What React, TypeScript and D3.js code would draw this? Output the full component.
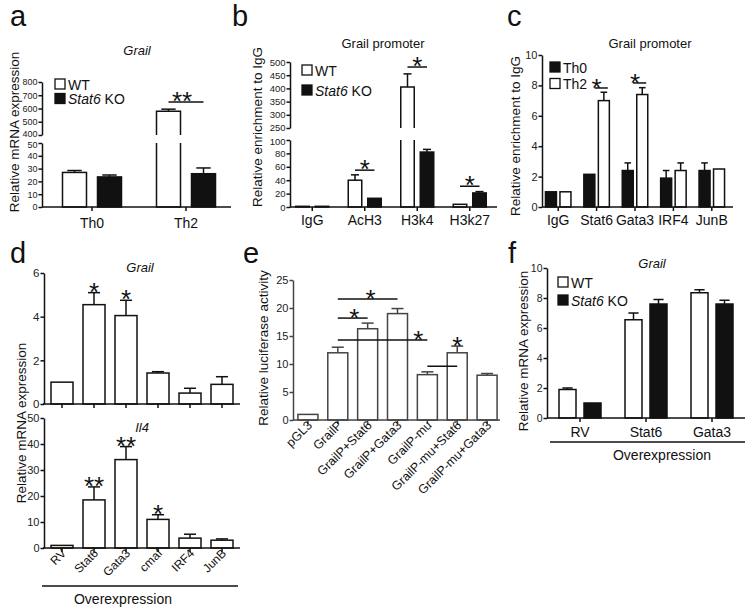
import React, { useRef, useEffect } from 'react';
import * as d3 from 'd3';

const FONT = '"Liberation Sans", Arial, Helvetica, sans-serif';
const INK = '#111';
const STAR = 26;

// a: Grail mRNA, WT vs Stat6 KO (broken axis)
const aGroups = ['Th0', 'Th2'];
const aWT = [27, 580];
const aWTErr = [28.5, 595];
const aKO = [23.5, 26];
const aKOErr = [25, 30.5];
const aTicksLow = [0, 10, 20, 30, 40, 50];
const aTicksHigh = [400, 500, 600, 700, 800];
const aSig = [{ group: 'Th2', y: 650, text: '**' }];

// b: ChIP on Grail promoter (broken axis)
const bGroups = ['IgG', 'AcH3', 'H3k4', 'H3k27'];
const bWT = [1, 40, 405, 4];
const bWTErr = [1, 48, 455, 5];
const bKO = [1, 13, 82, 21];
const bKOErr = [1, 14, 86, 23];
const bTicksLow = [0, 20, 40, 60, 80, 100];
const bTicksHigh = [250, 300, 350, 400, 450, 500];
const bSig = [
  { group: 'AcH3', y: 55, text: '*' },
  { group: 'H3k4', y: 481, text: '*' },
  { group: 'H3k27', y: 31, text: '*' },
];

// c: TF binding, Th0 vs Th2
const cGroups = ['IgG', 'Stat6', 'Gata3', 'IRF4', 'JunB'];
const cTh0 = [1, 2.15, 2.4, 1.9, 2.4];
const cTh0Err = [1, 2.2, 2.9, 2.4, 2.9];
const cTh2 = [1, 7.0, 7.4, 2.4, 2.5];
const cTh2Err = [1, 7.55, 7.85, 2.9, 2.5];
const cTicks = [0, 2, 4, 6, 8, 10];
const cSig = [
  { group: 'Stat6', y: 7.83, text: '*' },
  { group: 'Gata3', y: 8.16, text: '*' },
];

// d: overexpression, Grail and Il4
const dGroups = ['RV', 'Stat6', 'Gata3', 'cmaf', 'IRF4', 'JunB'];
const dGrail = [1, 4.55, 4.05, 1.42, 0.5, 0.9];
const dGrailErr = [1, 5.1, 4.75, 1.48, 0.72, 1.25];
const dGrailSig = ['', '*', '*', '', '', ''];
const dIl4 = [1, 18.5, 34, 11, 3.8, 3.0];
const dIl4Err = [1, 23.5, 39, 12.8, 5.3, 3.5];
const dIl4Sig = ['', '**', '**', '*', '', ''];
const dTicksGrail = [0, 2, 4, 6];
const dTicksIl4 = [0, 10, 20, 30, 40, 50];

// e: luciferase
const eGroups = ['pGL3', 'GrailP', 'GrailP+Stat6', 'GrailP+Gata3', 'GrailP-mu', 'GrailP-mu+Stat6', 'GrailP-mu+Gata3'];
const eVals = [1, 12, 16.3, 19, 8.1, 12, 8];
const eErr = [1, 13, 17.3, 19.9, 8.6, 13.2, 8.3];
const eSig = ['', '', '', '', '', '*', ''];
const eBrackets = [
  { from: 'GrailP', to: 'GrailP+Gata3', y: 21.6, star: 0.55 },
  { from: 'GrailP', to: 'GrailP+Stat6', y: 18.2, star: 0.55 },
  { from: 'GrailP', to: 'GrailP-mu', y: 14.3, star: 0.9 },
  { from: 'GrailP-mu', to: 'GrailP-mu+Stat6', y: 9.6, star: -1 },
];
const eTicks = [0, 5, 10, 15, 20, 25];

// f: overexpression in WT vs Stat6 KO
const fGroups = ['RV', 'Stat6', 'Gata3'];
const fWT = [1.9, 6.55, 8.35];
const fWTErr = [2.0, 7.0, 8.55];
const fKO = [1.0, 7.6, 7.6];
const fKOErr = [1.0, 7.9, 7.85];
const fTicks = [0, 2, 4, 6, 8, 10];

type Lin = d3.ScaleLinear<number, number>;
interface Split { low: Lin; high?: Lin }

const yOf = (s: Split, v: number) => (s.high && v > s.low.domain()[1] ? s.high(v) : s.low(v));

function text(g: any, x: number, y: number, s: string, size: number, o: any = {}) {
  const t = g.append('text')
    .attr('x', x).attr('y', y)
    .attr('font-size', size)
    .attr('font-family', FONT)
    .attr('fill', o.fill || INK)
    .attr('text-anchor', o.anchor || 'start');
  if (o.italic) t.attr('font-style', 'italic');
  if (o.weight) t.attr('font-weight', o.weight);
  if (o.rotate) t.attr('transform', `rotate(${o.rotate},${x},${y})`);
  t.text(s);
  return t;
}

function yLabel(g: any, cx: number, cy: number, s: string) {
  text(g, cx + 4.7, cy, s, 13.5, { anchor: 'middle', rotate: -90 });
}

// nudge: shifts the label of the end tick (for broken axes) so the two halves do not collide
function yAxis(g: any, scale: Lin, x: number, ticks: number[], size: number, color = INK, nudge = 0) {
  const ax = g.append('g').attr('transform', `translate(${x},0)`)
    .call(d3.axisLeft(scale).tickValues(ticks).tickFormat(d3.format('~g') as any)
      .tickSize(3.5).tickSizeOuter(0).tickPadding(1));
  ax.attr('font-family', FONT).attr('font-size', size);
  ax.select('.domain').attr('stroke', color).attr('stroke-width', 1.5);
  ax.selectAll('.tick line').attr('stroke', color).attr('stroke-width', 1.5);
  ax.selectAll('.tick text').attr('fill', '#222');
  if (nudge) {
    const edge = nudge < 0 ? ticks[0] : ticks[ticks.length - 1];
    ax.selectAll('.tick').filter((d: any) => d === edge).select('text').attr('y', nudge);
  }
}

function xAxisLine(g: any, x0: number, x1: number, y: number, centers: number[], color = INK) {
  g.append('line').attr('x1', x0).attr('x2', x1).attr('y1', y).attr('y2', y)
    .attr('stroke', color).attr('stroke-width', 1.5);
  centers.forEach(c => g.append('line').attr('x1', c).attr('x2', c).attr('y1', y).attr('y2', y + 4)
    .attr('stroke', color).attr('stroke-width', 1.5));
}

function bar(g: any, x: number, w: number, v: number, fill: string, s: Split, color = INK) {
  const base = s.low(0);
  const style = (sel: any) => sel.attr('fill', fill).attr('stroke', color).attr('stroke-width', 1.5);
  if (!s.high || v <= s.low.domain()[1]) {
    style(g.append('rect').attr('x', x).attr('y', s.low(v)).attr('width', w).attr('height', base - s.low(v)));
  } else {
    const lTop = s.low(s.low.domain()[1]);
    const hBot = s.high(s.high.domain()[0]);
    style(g.append('path').attr('d', `M${x},${lTop}V${base}H${x + w}V${lTop}`));
    style(g.append('path').attr('d', `M${x},${hBot}V${s.high(v)}H${x + w}V${hBot}`));
  }
}

function errBar(g: any, cx: number, v: number, e: number, w: number, s: Split, color = INK) {
  const y0 = yOf(s, v);
  const y1 = yOf(s, e);
  if (y0 - y1 < 1) return;
  g.append('line').attr('x1', cx).attr('x2', cx).attr('y1', y0).attr('y2', y1)
    .attr('stroke', color).attr('stroke-width', 1.5);
  g.append('line').attr('x1', cx - w / 2).attr('x2', cx + w / 2).attr('y1', y1).attr('y2', y1)
    .attr('stroke', color).attr('stroke-width', 1.5);
}

function star(g: any, x: number, cy: number, s: string) {
  text(g, x, cy + 0.58 * STAR, s, STAR, { anchor: 'middle' });
}

function pairPanel(g: any, groups: string[], series: any[], range: [number, number], w: number, gap: number, s: Split) {
  const step = (range[1] - range[0]) / groups.length;
  const pad = 1 - (2 * w + gap) / step;
  const outer = d3.scaleBand().domain(groups).range(range).paddingInner(pad).paddingOuter(pad / 2);
  const inner = d3.scaleBand().domain(series.map(d => d.key)).range([0, outer.bandwidth()]).paddingInner(gap / (w + gap));
  groups.forEach((gr, i) => {
    series.forEach(se => {
      const x = (outer(gr) as number) + (inner(se.key) as number);
      bar(g, x, inner.bandwidth(), se.vals[i], se.fill, s);
      errBar(g, x + inner.bandwidth() / 2, se.vals[i], se.errs[i], inner.bandwidth() * 0.6, s);
    });
  });
  const center = (gr: string) => (outer(gr) as number) + outer.bandwidth() / 2;
  const seriesCenter = (gr: string, k: string) => (outer(gr) as number) + (inner(k) as number) + inner.bandwidth() / 2;
  return { outer, inner, center, seriesCenter };
}

function legend(g: any, x: number, y: number, dy: number, items: { fill: string; parts: [string, boolean][] }[]) {
  items.forEach((it, i) => {
    g.append('rect').attr('x', x).attr('y', y + i * dy).attr('width', 10).attr('height', 10)
      .attr('fill', it.fill).attr('stroke', INK).attr('stroke-width', 1.3);
    const t = g.append('text').attr('x', x + 13).attr('y', y + i * dy + 10.5)
      .attr('font-size', 14).attr('font-family', FONT).attr('fill', INK);
    it.parts.forEach(([s, it2]) => t.append('tspan').attr('font-style', it2 ? 'italic' : 'normal').text(s));
  });
}

const wtKoLegend = [
  { fill: '#fff', parts: [['WT', false]] as [string, boolean][] },
  { fill: INK, parts: [['Stat6', true], [' KO', false]] as [string, boolean][] },
];

function draw(svg: any) {
  const root = svg.append('g');

  [['a', 10, 26], ['b', 232, 26], ['c', 507, 26], ['d', 10, 263], ['e', 243, 263], ['f', 508, 263]]
    .forEach(([l, x, y]) => text(root, x as number, y as number, l as string, 29));

  // ---------- a
  const ga = root.append('g');
  const aS: Split = {
    low: d3.scaleLinear().domain([0, 50]).range([207, 143]),
    high: d3.scaleLinear().domain([400, 800]).range([135, 82]),
  };
  yAxis(ga, aS.low, 42, aTicksLow, 9, INK, 1.5);
  yAxis(ga, aS.high!, 42, aTicksHigh, 9, INK, -1.5);
  const aP = pairPanel(ga, aGroups, [
    { key: 'WT', vals: aWT, errs: aWTErr, fill: '#fff' },
    { key: 'KO', vals: aKO, errs: aKOErr, fill: INK },
  ], [45, 233], 24, 11, aS);
  xAxisLine(ga, 42, 231, 207, aGroups.map(aP.center));
  aGroups.forEach(gr => text(ga, aP.center(gr), 228, gr, 14, { anchor: 'middle' }));
  text(ga, 137, 55, 'Grail', 13, { anchor: 'middle', italic: true });
  yLabel(ga, 14, 132, 'Relative mRNA expression');
  legend(ga, 55, 79, 14.5, wtKoLegend);
  aSig.forEach(sg => {
    const y = yOf(aS, sg.y);
    ga.append('line').attr('x1', aP.seriesCenter(sg.group, 'WT')).attr('x2', aP.seriesCenter(sg.group, 'KO'))
      .attr('y1', y).attr('y2', y).attr('stroke', INK).attr('stroke-width', 1.5);
    star(ga, aP.center(sg.group) - 4, y - 7, sg.text);
  });

  // ---------- b
  const gb = root.append('g');
  const bS: Split = {
    low: d3.scaleLinear().domain([0, 100]).range([207, 140]),
    high: d3.scaleLinear().domain([250, 500]).range([128, 62]),
  };
  yAxis(gb, bS.low, 290, bTicksLow, 9.5, INK, 1);
  yAxis(gb, bS.high!, 290, bTicksHigh, 9.5, INK, -1);
  const bP = pairPanel(gb, bGroups, [
    { key: 'WT', vals: bWT, errs: bWTErr, fill: '#fff' },
    { key: 'KO', vals: bKO, errs: bKOErr, fill: INK },
  ], [286, 496], 13.5, 6, bS);
  xAxisLine(gb, 290, 497, 207, bGroups.map(bP.center));
  bGroups.forEach(gr => text(gb, bP.center(gr), 225, gr, 14, { anchor: 'middle' }));
  text(gb, 383, 48, 'Grail promoter', 13, { anchor: 'middle' });
  yLabel(gb, 257, 127, 'Relative enrichment to IgG');
  legend(gb, 302, 65, 20, wtKoLegend);
  bSig.forEach(sg => {
    const y = yOf(bS, sg.y);
    gb.append('line').attr('x1', bP.seriesCenter(sg.group, 'WT')).attr('x2', bP.seriesCenter(sg.group, 'KO'))
      .attr('y1', y).attr('y2', y).attr('stroke', INK).attr('stroke-width', 1.5);
    star(gb, bP.center(sg.group), y - 7, sg.text);
  });

  // ---------- c
  const gc = root.append('g');
  const cS: Split = { low: d3.scaleLinear().domain([0, 10]).range([207, 55]) };
  yAxis(gc, cS.low, 542, cTicks, 11);
  const cP = pairPanel(gc, cGroups, [
    { key: 'Th0', vals: cTh0, errs: cTh0Err, fill: INK },
    { key: 'Th2', vals: cTh2, errs: cTh2Err, fill: '#fff' },
  ], [539, 731], 11, 3.5, cS);
  xAxisLine(gc, 542, 733, 207, cGroups.map(cP.center));
  cGroups.forEach(gr => text(gc, cP.center(gr), 225, gr, 14, { anchor: 'middle' }));
  text(gc, 650, 48, 'Grail promoter', 13, { anchor: 'middle' });
  yLabel(gc, 515, 136, 'Relative enrichment to IgG');
  legend(gc, 550, 62, 16.5, [
    { fill: INK, parts: [['Th0', false]] },
    { fill: '#fff', parts: [['Th2', false]] },
  ]);
  cSig.forEach(sg => {
    const y = yOf(cS, sg.y);
    gc.append('line').attr('x1', cP.center(sg.group) - 2).attr('x2', cP.seriesCenter(sg.group, 'Th2') + 4)
      .attr('y1', y).attr('y2', y).attr('stroke', INK).attr('stroke-width', 1.5);
    star(gc, cP.center(sg.group), y - 6, sg.text);
  });

  // ---------- d
  const gd = root.append('g');
  const dS1: Split = { low: d3.scaleLinear().domain([0, 6]).range([404, 273]) };
  const dS2: Split = { low: d3.scaleLinear().domain([0, 50]).range([548, 418]) };
  const dPad = 1 - 22 / 32;
  const dBand = d3.scaleBand().domain(dGroups).range([46, 238]).paddingInner(dPad).paddingOuter(dPad / 2);
  const dC = (gr: string) => (dBand(gr) as number) + dBand.bandwidth() / 2;
  yAxis(gd, dS1.low, 44, dTicksGrail, 11.5);
  yAxis(gd, dS2.low, 44, dTicksIl4, 11);
  ([[dS1, dGrail, dGrailErr, dGrailSig], [dS2, dIl4, dIl4Err, dIl4Sig]] as [Split, number[], number[], string[]][])
    .forEach(([s, vals, errs, sig]) => {
      dGroups.forEach((gr, i) => {
        bar(gd, dBand(gr) as number, dBand.bandwidth(), vals[i], '#fff', s);
        errBar(gd, dC(gr), vals[i], errs[i], dBand.bandwidth() * 0.55, s);
        if (sig[i]) star(gd, dC(gr), yOf(s, errs[i]) - 7, sig[i]);
      });
      xAxisLine(gd, 43, 240, s.low(0), dGroups.map(dC));
    });
  dGroups.forEach(gr => text(gd, dC(gr) + 5, 554, gr, 12, { anchor: 'end', rotate: -45 }));
  gd.append('line').attr('x1', 42).attr('x2', 238).attr('y1', 586).attr('y2', 586)
    .attr('stroke', INK).attr('stroke-width', 1.5);
  text(gd, 123, 604, 'Overexpression', 14, { anchor: 'middle' });
  text(gd, 140, 272, 'Grail', 13, { anchor: 'middle', italic: true });
  text(gd, 142, 432, 'Il4', 13, { anchor: 'middle', italic: true });
  yLabel(gd, 21, 423, 'Relative mRNA expression');

  // ---------- e
  const ge = root.append('g');
  const GRAY = '#444';
  const eS: Split = { low: d3.scaleLinear().domain([0, 25]).range([420, 280]) };
  const ePad = 1 - 20 / 29.86;
  const eBand = d3.scaleBand().domain(eGroups).range([293, 502]).paddingInner(ePad).paddingOuter(ePad / 2);
  const eC = (gr: string) => (eBand(gr) as number) + eBand.bandwidth() / 2;
  yAxis(ge, eS.low, 293, eTicks, 11, GRAY);
  eGroups.forEach((gr, i) => {
    bar(ge, eBand(gr) as number, eBand.bandwidth(), eVals[i], '#fff', eS, GRAY);
    errBar(ge, eC(gr), eVals[i], eErr[i], eBand.bandwidth() * 0.6, eS, GRAY);
    if (eSig[i]) star(ge, eC(gr), yOf(eS, eErr[i]) - 6, eSig[i]);
  });
  xAxisLine(ge, 293, 500, 420, eGroups.map(eC), GRAY);
  eBrackets.forEach(b => {
    const y = eS.low(b.y);
    const x0 = eC(b.from);
    const x1 = eC(b.to);
    ge.append('line').attr('x1', x0).attr('x2', x1).attr('y1', y).attr('y2', y)
      .attr('stroke', INK).attr('stroke-width', 1.5);
    if (b.star >= 0) star(ge, x0 + (x1 - x0) * b.star, y - 6, '*');
  });
  eGroups.forEach(gr => text(ge, eC(gr) + 5, 426, gr, 12.5, { anchor: 'end', rotate: -45 }));
  yLabel(ge, 263, 348, 'Relative luciferase activity');

  // ---------- f
  const gf = root.append('g');
  const fS: Split = { low: d3.scaleLinear().domain([0, 10]).range([418, 268]) };
  yAxis(gf, fS.low, 547, fTicks, 10.5);
  const fP = pairPanel(gf, fGroups, [
    { key: 'WT', vals: fWT, errs: fWTErr, fill: '#fff' },
    { key: 'KO', vals: fKO, errs: fKOErr, fill: INK },
  ], [547, 745], 17, 8, fS);
  xAxisLine(gf, 547, 745, 418, fGroups.map(fP.center));
  fGroups.forEach(gr => text(gf, fP.center(gr), 437, gr, 14, { anchor: 'middle' }));
  gf.append('line').attr('x1', 550).attr('x2', 745).attr('y1', 442).attr('y2', 442)
    .attr('stroke', INK).attr('stroke-width', 1.5);
  text(gf, 662, 460, 'Overexpression', 14, { anchor: 'middle' });
  text(gf, 652, 268, 'Grail', 13, { anchor: 'middle', italic: true });
  legend(gf, 558, 277, 18, wtKoLegend);
  yLabel(gf, 523, 351, 'Relative mRNA expression');
}

export default function App() {
  const ref = useRef<SVGSVGElement>(null);
  useEffect(() => {
    if (!ref.current) return;
    const svg = d3.select(ref.current);
    svg.selectAll('*').remove();
    draw(svg);
  }, []);
  return (
    <svg
      ref={ref}
      width={754}
      height={613}
      style={{ position: 'absolute', left: 0, top: 0, background: '#fff' }}
    />
  );
}
